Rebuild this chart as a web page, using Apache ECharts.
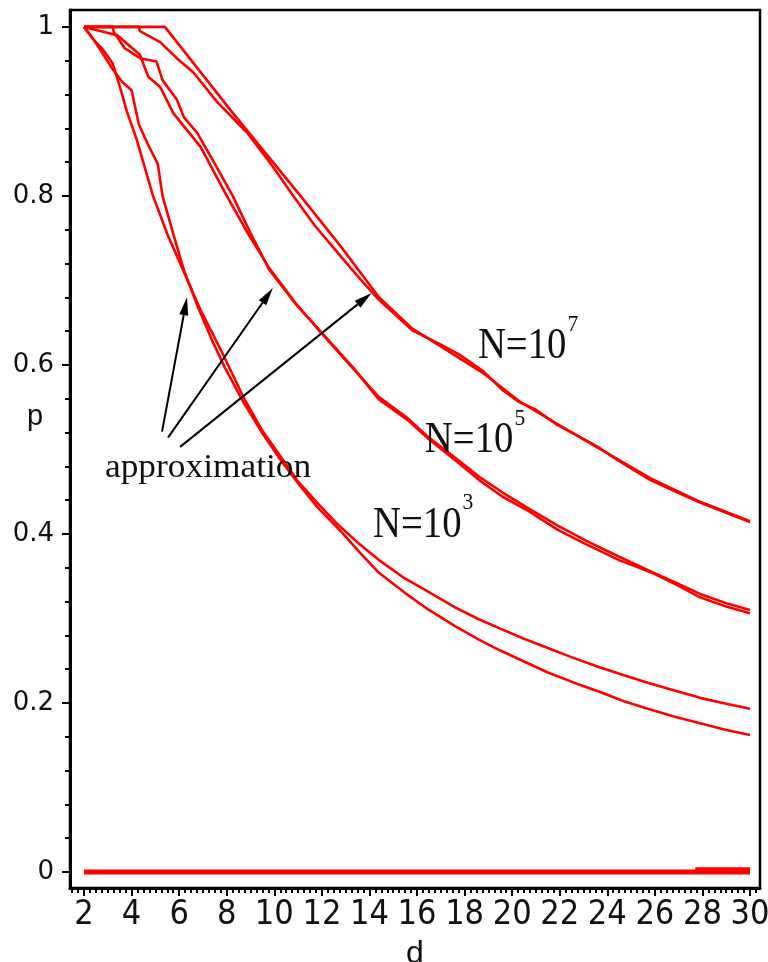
<!DOCTYPE html>
<html>
<head>
<meta charset="utf-8">
<script src="https://cdn.jsdelivr.net/npm/echarts@6/dist/echarts.min.js"></script>
<style>
  html, body { margin: 0; padding: 0; background: #fff; }
  #main { width: 768px; height: 962px; }
</style>
</head>
<body>
<div id="main"></div>
<script>
// Tick labels
const dTicks = [2, 4, 6, 8, 10, 12, 14, 16, 18, 20, 22, 24, 26, 28, 30];
const pTicks = [0, 0.2, 0.4, 0.6, 0.8, 1];

// N = 10^3 : simulated p(d)
const n3SimD = [2, 2.4, 2.8, 3.2, 3.6, 4.0, 4.3, 4.7, 5.1, 5.3, 5.7, 6.2, 6.8, 7.4, 7.9, 8.7, 9.5, 10.2, 11.0, 11.8, 12.8, 13.6, 14.4, 15.5, 16.5, 17.6, 18.6, 19.5, 20.5, 21.5, 22.6, 23.7, 24.7, 25.7, 26.8, 27.9, 29.0, 30];
const n3SimP = [1, 0.985, 0.968, 0.95, 0.935, 0.925, 0.885, 0.86, 0.838, 0.80, 0.76, 0.712, 0.668, 0.628, 0.598, 0.556, 0.519, 0.49, 0.46, 0.432, 0.403, 0.378, 0.354, 0.330, 0.310, 0.291, 0.275, 0.262, 0.249, 0.236, 0.224, 0.213, 0.202, 0.193, 0.184, 0.176, 0.168, 0.162];
// N = 10^3 : approximation
const n3ApxD = [2, 2.4, 2.8, 3.2, 3.5, 3.8, 4.2, 4.9, 5.5, 6.2, 6.9, 7.8, 8.7, 9.5, 10.3, 11.0, 11.8, 12.6, 13.5, 14.4, 15.4, 16.5, 17.6, 18.6, 19.5, 20.5, 21.5, 22.6, 23.7, 24.8, 25.8, 26.9, 27.9, 29.0, 30];
const n3ApxP = [1, 0.985, 0.973, 0.957, 0.93, 0.90, 0.868, 0.80, 0.755, 0.71, 0.665, 0.615, 0.562, 0.522, 0.49, 0.462, 0.437, 0.413, 0.39, 0.369, 0.349, 0.331, 0.313, 0.299, 0.288, 0.276, 0.265, 0.253, 0.242, 0.232, 0.223, 0.214, 0.206, 0.199, 0.193];

// N = 10^5 : simulated p(d)
const n5SimD = [2, 3.2, 3.25, 3.7, 4.35, 5.05, 5.3, 5.9, 6.2, 6.75, 7.4, 8.25, 9.0, 9.8, 10.9, 12.0, 13.4, 14.4, 15.6, 16.5, 17.7, 18.6, 19.6, 20.7, 21.9, 23.1, 24.5, 25.8, 26.9, 27.9, 29.0, 30];
const n5SimP = [1, 1, 0.994, 0.975, 0.963, 0.959, 0.937, 0.914, 0.893, 0.875, 0.843, 0.80, 0.756, 0.712, 0.672, 0.638, 0.594, 0.559, 0.535, 0.512, 0.485, 0.464, 0.444, 0.427, 0.405, 0.388, 0.369, 0.355, 0.340, 0.325, 0.314, 0.306];
// N = 10^5 : approximation
const n5ApxD = [2, 3.4, 4.35, 4.7, 5.2, 5.75, 6.9, 8.0, 8.9, 9.8, 10.9, 12.0, 13.4, 14.4, 15.6, 16.5, 17.7, 18.6, 19.6, 20.7, 21.9, 23.1, 24.5, 25.8, 26.9, 27.9, 29.0, 30];
const n5ApxP = [1, 0.99, 0.967, 0.941, 0.929, 0.898, 0.858, 0.80, 0.755, 0.714, 0.673, 0.637, 0.593, 0.562, 0.537, 0.514, 0.488, 0.468, 0.449, 0.430, 0.410, 0.392, 0.373, 0.356, 0.342, 0.329, 0.318, 0.310];

// N = 10^7 : simulated p(d)
const n7SimD = [2, 4.3, 4.35, 5.2, 5.9, 6.6, 7.6, 8.85, 9.8, 10.8, 11.7, 12.6, 13.5, 14.4, 15.8, 17.0, 17.8, 18.8, 19.6, 20.3, 21.0, 21.9, 22.9, 23.6, 24.5, 25.8, 26.8, 27.9, 29.0, 30];
const n7SimP = [1, 1, 0.995, 0.982, 0.963, 0.946, 0.911, 0.875, 0.84, 0.80, 0.765, 0.735, 0.705, 0.677, 0.641, 0.624, 0.612, 0.592, 0.570, 0.556, 0.547, 0.529, 0.514, 0.503, 0.486, 0.464, 0.451, 0.437, 0.425, 0.414];
// N = 10^7 : approximation
const n7ApxD = [2, 5.4, 8.2, 11.1, 12.8, 14.4, 15.8, 17.0, 18.8, 20.3, 21.9, 23.6, 25.8, 27.9, 30];
const n7ApxP = [1, 1, 0.90, 0.80, 0.74, 0.68, 0.643, 0.622, 0.59, 0.557, 0.53, 0.502, 0.466, 0.438, 0.415];

// Baseline curves lying on p = 0
const zeroD = [2, 30];
const zeroP = [0, 0];
const zeroTailD = [27.7, 30];
const zeroTailP = [0.002, 0.002];

// Annotation anchors, in (d, p) units
const arrowTails = [[5.28, 0.521], [5.53, 0.514], [6.04, 0.503]];
const arrowTips = [[6.33, 0.680], [9.94, 0.691], [14.09, 0.685]];
const approxAnchor = [2.88, 0.464];
const nLabels = [
  { base: 'N=10', exp: '7', at: [18.56, 0.604] },
  { base: 'N=10', exp: '5', at: [16.33, 0.493] },
  { base: 'N=10', exp: '3', at: [14.15, 0.393] }
];

const pairs = (xs, ys) => xs.map((x, i) => [x, ys[i]]);

// minor tick positions
const dMinor = [];
for (let i = 6; i <= 121; i++) dMinor.push(i * 0.25);
const pMinor = [];
for (let i = 0; i <= 25; i++) pMinor.push(Math.round(i * 0.04 * 1000) / 1000);

const RED = '#ff0000';
const curve = (data, width) => ({
  type: 'line',
  data: data,
  xAxisIndex: 0,
  yAxisIndex: 0,
  symbol: 'none',
  showSymbol: false,
  smooth: false,
  silent: true,
  animation: false,
  lineStyle: { color: RED, width: width || 2.6 },
  z: 3
});

const X_MIN = 1.41, X_MAX = 30.42, Y_MIN = -0.019, Y_MAX = 1.02;
const sansFont = 'Liberation Sans, Arial, Helvetica, sans-serif';

const option = {
  backgroundColor: '#fff',
  animation: false,
  grid: {
    left: 70, right: 8, top: 10, bottom: 74,
    outerBoundsMode: 'none', containLabel: false,
    show: true, borderColor: '#000', borderWidth: 2.5, backgroundColor: 'transparent'
  },
  xAxis: [
    {
      type: 'value', min: X_MIN, max: X_MAX, position: 'bottom',
      axisLine: { show: true, onZero: false, lineStyle: { color: '#000', width: 3 } },
      axisTick: { show: true, customValues: dTicks, length: 8, lineStyle: { color: '#000', width: 2 } },
      axisLabel: {
        customValues: dTicks, margin: 10, color: '#111', fontSize: 34,
        fontFamily: 'Liberation Sans Narrow, DejaVu Sans Condensed, Liberation Sans, sans-serif'
      },
      splitLine: { show: false },
      name: 'd', nameLocation: 'middle', nameGap: 50,
      nameTextStyle: { fontSize: 32, fontFamily: sansFont, color: '#111' }
    },
    {
      type: 'value', min: X_MIN, max: X_MAX, position: 'bottom',
      axisLine: { show: false, onZero: false },
      axisTick: { show: true, customValues: dMinor, length: 5, lineStyle: { color: '#000', width: 2 } },
      axisLabel: { show: false },
      splitLine: { show: false }
    }
  ],
  yAxis: [
    {
      type: 'value', min: Y_MIN, max: Y_MAX, position: 'left',
      axisLine: { show: true, onZero: false, lineStyle: { color: '#000', width: 3 } },
      axisTick: { show: true, customValues: pTicks, length: 8, lineStyle: { color: '#000', width: 2 } },
      axisLabel: {
        customValues: pTicks, margin: 16, color: '#111', fontSize: 26,
        fontFamily: 'DejaVu Sans, sans-serif',
        formatter: v => String(Math.round(v * 10) / 10)
      },
      splitLine: { show: false }
    },
    {
      type: 'value', min: Y_MIN, max: Y_MAX, position: 'left',
      axisLine: { show: false, onZero: false },
      axisTick: { show: true, customValues: pMinor, length: 5, lineStyle: { color: '#000', width: 2 } },
      axisLabel: { show: false },
      splitLine: { show: false }
    }
  ],
  series: [
    curve(pairs(zeroD, zeroP), 5),
    curve(pairs(zeroTailD, zeroTailP), 6),
    curve(pairs(n3SimD, n3SimP)),
    curve(pairs(n3ApxD, n3ApxP)),
    curve(pairs(n5SimD, n5SimP)),
    curve(pairs(n5ApxD, n5ApxP)),
    curve(pairs(n7SimD, n7SimP)),
    curve(pairs(n7ApxD, n7ApxP))
  ]
};

const chart = echarts.init(document.getElementById('main'), null, { renderer: 'canvas' });
chart.setOption(option);

// annotations: arrows, curve labels and the p axis title
const toPx = pt => chart.convertToPixel({ seriesIndex: 2 }, pt);
const measure = (txt, font) => {
  const ctx = document.createElement('canvas').getContext('2d');
  ctx.font = font;
  return ctx.measureText(txt).width;
};
const serif = 'Liberation Serif, Times New Roman, serif';
const graphics = [];

arrowTails.forEach((tail, i) => {
  const a = toPx(tail), b = toPx(arrowTips[i]);
  const dx = b[0] - a[0], dy = b[1] - a[1];
  const len = Math.sqrt(dx * dx + dy * dy);
  const ux = dx / len, uy = dy / len;
  const headLen = 18, headHalf = 4.5;
  const bx = b[0] - ux * headLen, by = b[1] - uy * headLen;
  graphics.push({
    type: 'line', silent: true, z: 10,
    shape: { x1: a[0], y1: a[1], x2: bx, y2: by },
    style: { stroke: '#000', lineWidth: 2 }
  });
  graphics.push({
    type: 'polygon', silent: true, z: 10,
    shape: { points: [[b[0], b[1]], [bx - uy * headHalf, by + ux * headHalf], [bx + uy * headHalf, by - ux * headHalf]] },
    style: { fill: '#000' }
  });
});

// text placed by its alphabetic baseline (canvas "middle" sits ~0.3375em above it for Liberation fonts)
const baseText = (txt, x, baseline, size, family, sx) => ({
  type: 'text', silent: true, z: 11,
  x: x, y: baseline - 0.3375 * size, scaleX: sx || 1,
  style: { text: txt, font: size + 'px ' + family, fill: '#111', align: 'left', verticalAlign: 'middle' }
});

const ap = toPx(approxAnchor);
graphics.push(baseText('approximation', ap[0], ap[1], 34, serif, 1.04));

const labelSize = 44, labelScale = 0.88, expSize = 24;
nLabels.forEach(l => {
  const p = toPx(l.at);
  graphics.push(baseText(l.base, p[0], p[1], labelSize, serif, labelScale));
  const w = measure(l.base, labelSize + 'px ' + serif) * labelScale;
  graphics.push(baseText(l.exp, p[0] + w + 1, p[1] - 29, expSize, serif, 0.9));
});

const pAt = toPx([X_MIN, 0.543]);
graphics.push({
  type: 'text', silent: true, z: 11,
  x: 35, y: pAt[1] + 4,
  style: { text: 'p', font: '29px ' + sansFont, fill: '#111', align: 'center', verticalAlign: 'middle' }
});

chart.setOption({ graphic: graphics });
</script>
</body>
</html>
